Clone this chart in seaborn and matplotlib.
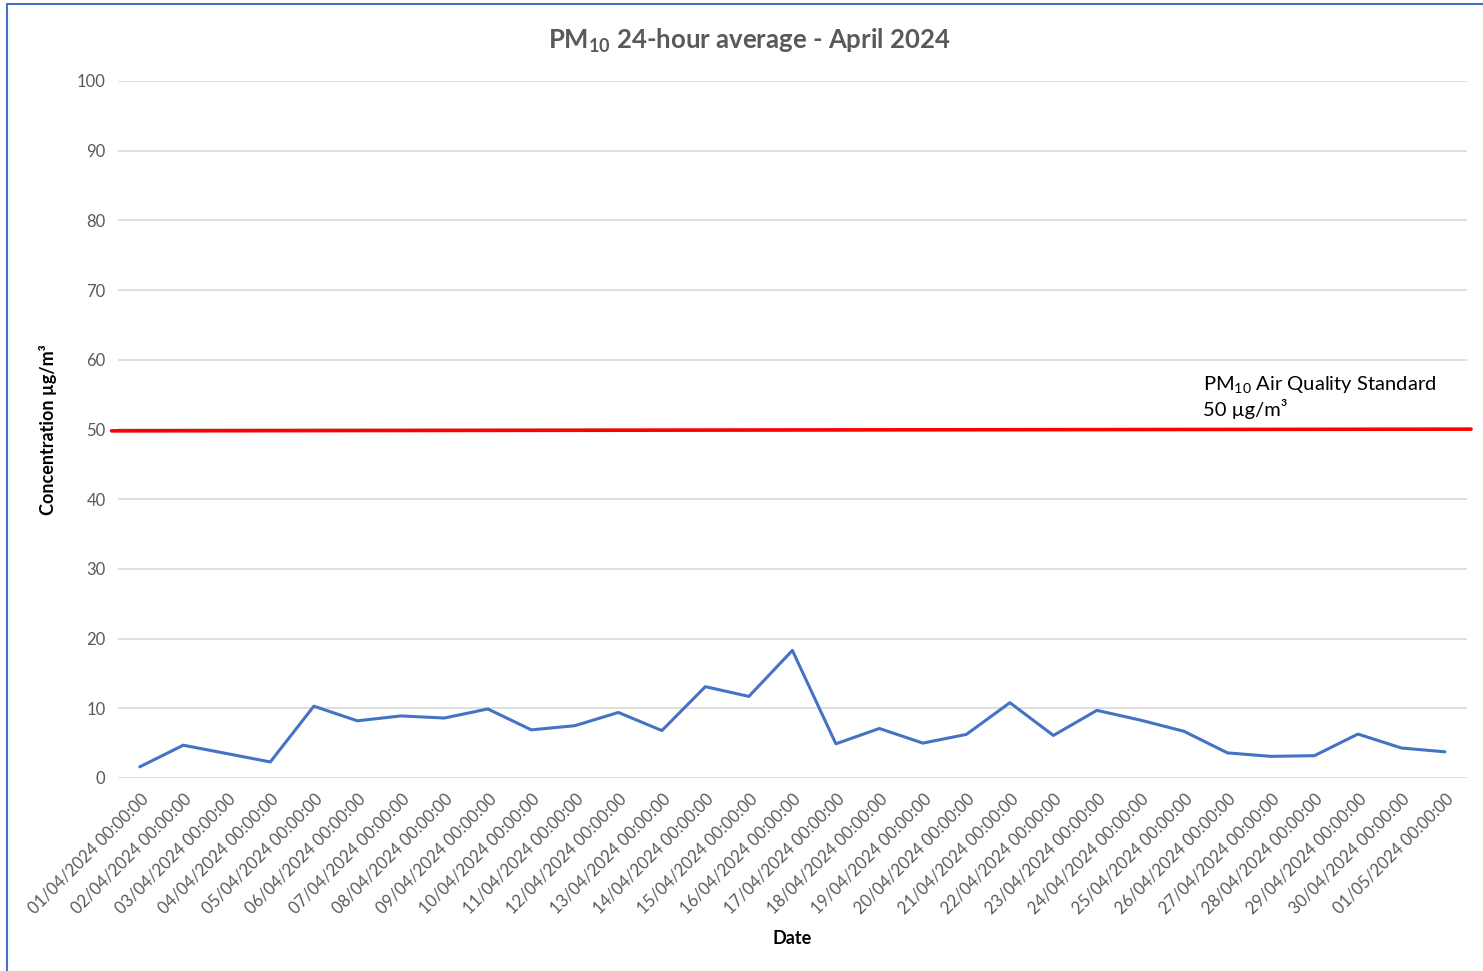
import numpy as np
import pandas as pd
import matplotlib.pyplot as plt
import seaborn as sns
from matplotlib.patches import Rectangle

# ---- data ----
dates = [f"{d:02d}/04/2024 00:00:00" for d in range(1, 31)] + ["01/05/2024 00:00:00"]
pm10 = [1.6, 4.7, 3.5, 2.3, 10.3, 8.2, 8.9, 8.6, 9.9, 6.9,
        7.5, 9.4, 6.8, 13.1, 11.7, 18.3, 4.9, 7.1, 5.0, 6.25,
        10.8, 6.1, 9.7, 8.3, 6.7, 3.6, 3.1, 3.2, 6.3, 4.3, 3.75]
standard = 50
y_ticks = list(range(0, 101, 10))

df = pd.DataFrame({"Date": dates, "PM10": pm10})

sns.set_theme(style="white")
plt.rcParams['font.family'] = ['Lato', 'DejaVu Sans']
plt.rcParams['mathtext.default'] = 'regular'

fig = plt.figure(figsize=(14.83, 9.71), dpi=100)
ax = fig.add_axes([0.0796, 0.1988, 0.9094, 0.7178])

# gridlines
for t in y_ticks:
    ax.axhline(t, color='#D9D9D9', lw=1.2, zorder=0)

sns.lineplot(data=df, x="Date", y="PM10", ax=ax, color='#4472C4', lw=2.2, sort=False)

# air quality standard line
ax.plot([-0.65, 30.6], [standard - 0.2, standard + 0.05], color='#FF0000', lw=2.6, clip_on=False)
ax.text(24.45, 51.5, "PM$_{10}$ Air Quality Standard\n50 µg/m³", fontsize=14.5, color='black',
        va='bottom', ha='left', linespacing=1.25)

ax.set_xlim(-0.5, len(dates) - 0.5)
ax.set_ylim(0, 100)
ax.set_yticks(y_ticks)
ax.set_xticks(range(len(dates)))
ax.set_xticklabels(dates, rotation=45, ha='right', rotation_mode='anchor')
ax.tick_params(axis='both', colors='#595959', labelsize=12, length=0, pad=9)
for s in ax.spines.values():
    s.set_visible(False)

ax.set_xlabel("Date", fontsize=13, fontweight='bold', color='black', labelpad=10)
ax.set_ylabel("Concentration µg/m³", fontsize=13, fontweight='bold', color='black', labelpad=14)
fig.text(0.505, 0.958, "PM$_{10}$ 24-hour average - April 2024", ha='center', va='center',
         fontsize=18.5, fontweight='bold', color='#595959')

# chart-area border (left/top visible in the screenshot)
fig.patches.append(Rectangle((0.0047, -0.05), 1.2, 1.046, transform=fig.transFigure,
                             fill=False, edgecolor='#4472C4', lw=1.5))

fig.savefig("out.png", dpi=100)
